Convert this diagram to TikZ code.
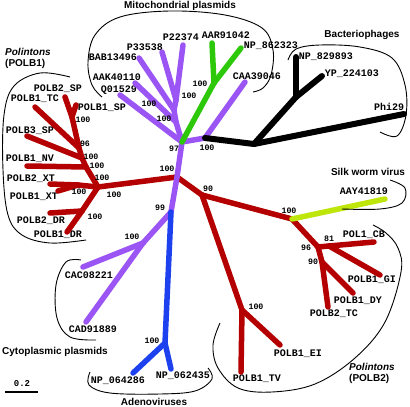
\documentclass[tikz,border=0pt]{standalone}
\usepackage{fontspec}
\setmainfont{Liberation Sans}
\setmonofont{Liberation Mono}
\usepackage{tikz}

\definecolor{polred}{RGB}{180,0,0}
\definecolor{plpurple}{RGB}{155,85,245}
\definecolor{mtgreen}{RGB}{45,200,10}
\definecolor{adblue}{RGB}{30,65,240}
\definecolor{swlime}{RGB}{190,230,10}

\begin{document}
\begin{tikzpicture}[x=1pt,y=-1pt,
  br/.style={line width=5.5pt,line cap=round,line join=round},
  lf/.style={font=\fontsize{10}{10}\selectfont\ttfamily\bfseries,inner sep=0pt},
  bs/.style={font=\fontsize{8.3}{8.3}\selectfont\ttfamily\bfseries,inner sep=0pt},
  grp/.style={font=\fontsize{10}{11}\selectfont\bfseries,inner sep=0pt,align=left},
  brk/.style={line width=0.9pt}]
\useasboundingbox (0,0) rectangle (410,407);
% inner nodes of the tree
\foreach \n/\x/\y in {c97/182/142,p1/176/122,p2/174/110,p3/176/100,g0/214/83,
  p4/205/138,k0/254/144,k1/296/97,c0/177/177,p5/171/212,p6/143/243,a0/165/343,
  r0/98/187,s1/72/117,s2/79/148,s3/82/158,s4/86/167,x0/78/185,d0/82/211,
  r1/202/195,r2/242/310,r3/292/219,r4/318/247,r5/329/246,r6/322/262}
  \coordinate (\n) at (\x,\y);
% leaves and their labels
\foreach \n/\lx/\ly/\tx/\ty/\t in {%
  P22/183/45/181/37/P22374, P33/162/52/145/47/P33538, BAB/139/58/113/57/BAB13496,
  AAK/135/83/117/77/AAK40110, Q01/120/95/119/90/Q01529,
  AAR/212/43/226/35/AAR91042, NP86/241/48/271/46/NP\_862323,
  CAA/245/82/257/76/CAA39046,
  NP82/296/57/326/57/NP\_829893, YP/322/76/352/74/YP\_224103, Phi/404/114/389/107/Phi29,
  AAY/385/199/364/191/AAY41819,
  CB/374/242/364/235/POL1\_CB, GI/380/275/372/280/POLB1\_GI,
  DY/353/293/358/301/POLB1\_DY, B2TC/328/307/334/314/POLB2\_TC,
  EI/280/345/298/354/POLB1\_EI, TV/241/372/257/379/POLB1\_TV,
  NP06/133/373/118/381/NP\_064286, NP062/171/369/183/376/NP\_062435,
  CAC/83/267/89/275/CAC08221, CAD/86/322/93/329/CAD91889,
  B2SP/65/97/58/89/POLB2\_SP, B1SP/76/105/102/108/POLB1\_SP,
  B1TC/35/107/35/99/POLB1\_TC, B3SP/27/136/30/131/POLB3\_SP,
  B1NV/27/166/30/159/POLB1\_NV, B2XT/50/184/31/179/POLB2\_XT,
  B1XT/58/191/34/197/POLB1\_XT, B2DR/50/213/41/221/POLB2\_DR,
  B1DR/67/232/58/235/POLB1\_DR}{
  \coordinate (\n) at (\lx,\ly);
  \node[lf] (t\n) at (\tx,\ty) {\t};
}
% branches
\foreach \a/\b in {c0/r0,r0/s4,s4/s3,s3/s2,s2/s1,s1/B2SP,s1/B1SP,s2/B1TC,s3/B3SP,
  s4/B1NV,r0/x0,x0/B2XT,x0/B1XT,r0/d0,d0/B2DR,d0/B1DR,c0/r1,r1/r3,r1/r2,r2/TV,
  r2/EI,r3/r4,r4/r5,r5/CB,r5/GI,r4/r6,r6/DY,r6/B2TC}
  \draw[br,polred] (\a) -- (\b);
\foreach \a/\b in {c0/c97,c97/Q01,c97/p1,p1/AAK,p1/p2,p2/BAB,p2/p3,p3/P33,p3/P22,
  c97/p4,p4/CAA,c0/p5,p5/p6,p6/CAC,p6/CAD}
  \draw[br,plpurple] (\a) -- (\b);
\foreach \a/\b in {c97/g0,g0/AAR,g0/NP86}
  \draw[br,mtgreen] (\a) -- (\b);
\foreach \a/\b in {p4/k0,k0/k1,k1/NP82,k1/YP,k0/Phi}
  \draw[br,line width=6pt,black] (\a) -- (\b);
\foreach \a/\b in {p5/a0,a0/NP06,a0/NP062}
  \draw[br,adblue] (\a) -- (\b);
\draw[br,swlime] (r3) -- (AAY);
% bootstrap values
\foreach \x/\y/\v [count=\i] in {200/84/100,189/96/100,149/104/100,164/119/100,
  174/149/97,207/148/100,167/169/100,208/189/90,160/208/99,132/237/100,152/341/100,
  289/211/100,306/248/96,329/239/81,313/262/90,256/307/100,
  83/120/100,85/144/96,91/157/100,97/166/100,102/178/100,79/192/100,114/195/100,
  95/217/100}
  \node[bs] (bv\i) at (\x,\y) {\v};
% groups
\node[grp] (mito) at (180,6) {Mitochondrial plasmids};
\node[grp] (phage) at (362,35) {Bacteriophages};
\node[grp] (silk) at (368,172) {Silk worm virus};
\node[grp,anchor=west] (pol1) at (5,58) {\itshape Polintons\\(POLB1)};
\node[grp] (cyto) at (55,352) {Cytoplasmic plasmids};
\node[grp] (adeno) at (154,402) {Adenoviruses};
\node[grp,anchor=west] (pol2) at (349,373.5) {\itshape Polintons\\(POLB2)};
\draw[brk] plot[smooth,tension=0.6] coordinates {(102,97) (92,85) (88,62) (95,35)
  (120,17) (170,11) (225,15) (262,28) (273,50) (271,75) (263,88) (253,92)};
\draw[brk] plot[smooth,tension=0.6] coordinates {(288,60) (296,49) (320,45) (360,47)
  (392,58) (405,85) (406,115) (397,136) (380,132)};
\draw[brk] plot[smooth,tension=0.6] coordinates {(390,180) (405,188) (402,203)
  (380,209) (342,209)};
\draw[brk] plot[smooth,tension=0.6] coordinates {(70,77) (40,73) (14,86) (4,115)
  (3,170) (8,215) (22,235) (50,243) (86,240)};
\draw[brk] plot[smooth,tension=0.6] coordinates {(81,260) (66,262) (56,285)
  (57,318) (70,337) (96,340)};
\draw[brk] plot[smooth,tension=0.6] coordinates {(90,372) (89,385) (110,393)
  (160,394) (195,391) (212,379) (208,368)};
\draw[brk] plot[smooth,tension=0.6] coordinates {(220,323) (213,345) (218,368)
  (238,388) (272,392) (315,384) (355,358) (385,322) (401,272) (398,248) (386,233)
  (373,225)};
% scale bar
\node[bs,font=\fontsize{9}{9}\selectfont\ttfamily\bfseries] (sc) at (22,384) {0.2};
\coordinate (sca) at (5,392);
\coordinate (scb) at (38,392);
\draw[line width=1.4pt] (sca) -- (scb);
\end{tikzpicture}
\end{document}
